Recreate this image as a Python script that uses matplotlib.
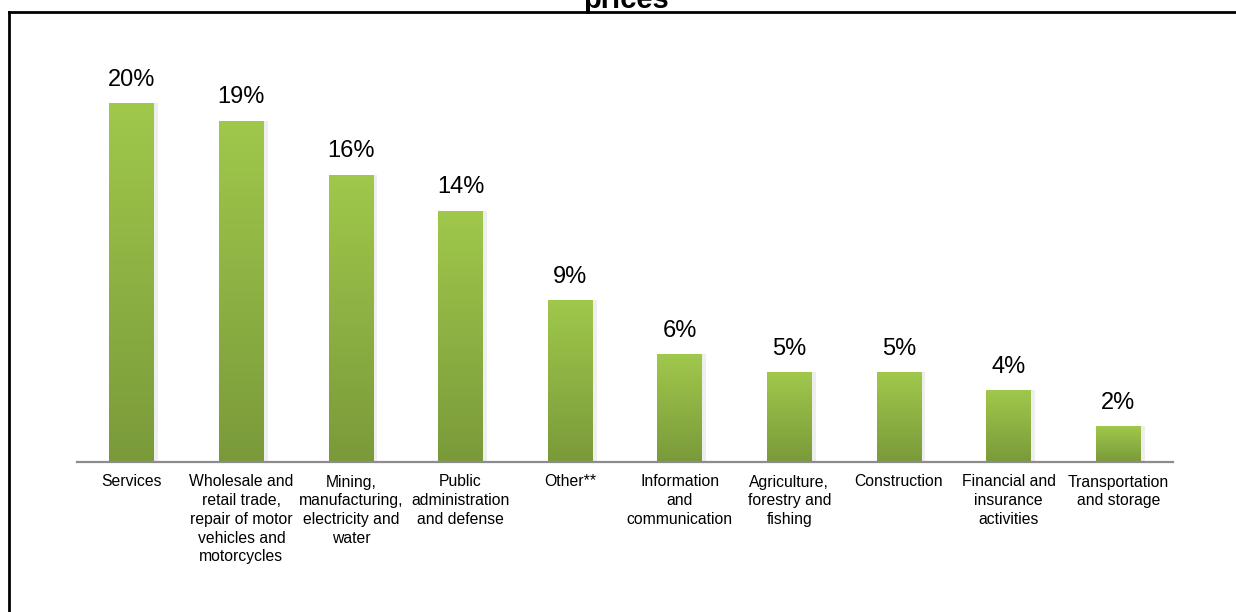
import numpy as np
import matplotlib.pyplot as plt
from matplotlib.lines import Line2D
from matplotlib.colors import LinearSegmentedColormap

plt.rcParams['font.family'] = ['Liberation Sans', 'DejaVu Sans']

# data
sectors = ['Services',
           'Wholesale and\nretail trade,\nrepair of motor\nvehicles and\nmotorcycles',
           'Mining,\nmanufacturing,\nelectricity and\nwater',
           'Public\nadministration\nand defense',
           'Other**',
           'Information\nand\ncommunication',
           'Agriculture,\nforestry and\nfishing',
           'Construction',
           'Financial and\ninsurance\nactivities',
           'Transportation\nand storage']
shares = [20, 19, 16, 14, 9, 6, 5, 5, 4, 2]
value_labels = ['20%', '19%', '16%', '14%', '9%', '6%', '5%', '5%', '4%', '2%']

W, H = 1236, 612
fig = plt.figure(figsize=(W / 100, H / 100), dpi=100)
ax = fig.add_axes([77 / W, (H - 462) / H, 1096 / W, 432 / H])

x = np.arange(len(shares))
barWidth = 0.41
green = LinearSegmentedColormap.from_list('grn', ['#7a9a3a', '#a0c84b'])
grad = np.linspace(0, 1, 256).reshape(-1, 1)

for xi, v, lab in zip(x, shares, value_labels):
    # soft shadow around the bar
    ax.bar(xi + 0.025, v, width=barWidth + 0.02, color='#e3e3e3', alpha=0.6,
           zorder=1, linewidth=0)
    bar = ax.bar(xi, v, width=barWidth, color='none', linewidth=0, zorder=2)[0]
    im = ax.imshow(grad, cmap=green, aspect='auto', origin='lower',
                   extent=[xi - barWidth / 2, xi + barWidth / 2, 0, v],
                   zorder=2)
    im.set_clip_path(bar)
    ax.annotate(lab, (xi, v), xytext=(0, 9), textcoords='offset points',
                ha='center', va='bottom', fontsize=17)

ax.set_xlim(-0.5, len(shares) - 0.5)
ax.set_ylim(0, 24.07)
ax.set_xticks(x)
ax.set_xticklabels(sectors, fontsize=11.3, linespacing=1.31)
ax.tick_params(axis='x', length=0, pad=9)
ax.set_yticks([])
for s in ['top', 'right', 'left']:
    ax.spines[s].set_visible(False)
ax.spines['bottom'].set_color('#8c8c8c')
ax.spines['bottom'].set_linewidth(1.6)

# frame lines on left and top
fig.add_artist(Line2D([9 / W, 9 / W], [0, (H - 12) / H], color='black',
                      linewidth=2, transform=fig.transFigure))
fig.add_artist(Line2D([9 / W, 1], [(H - 12) / H, (H - 12) / H], color='black',
                      linewidth=2, transform=fig.transFigure))

# title, only its last line is visible in the crop
fig.text(626 / W, (H - 8) / H, 'prices', ha='center', va='baseline',
         fontsize=21, fontweight='bold')

fig.savefig('out.png', dpi=100)
